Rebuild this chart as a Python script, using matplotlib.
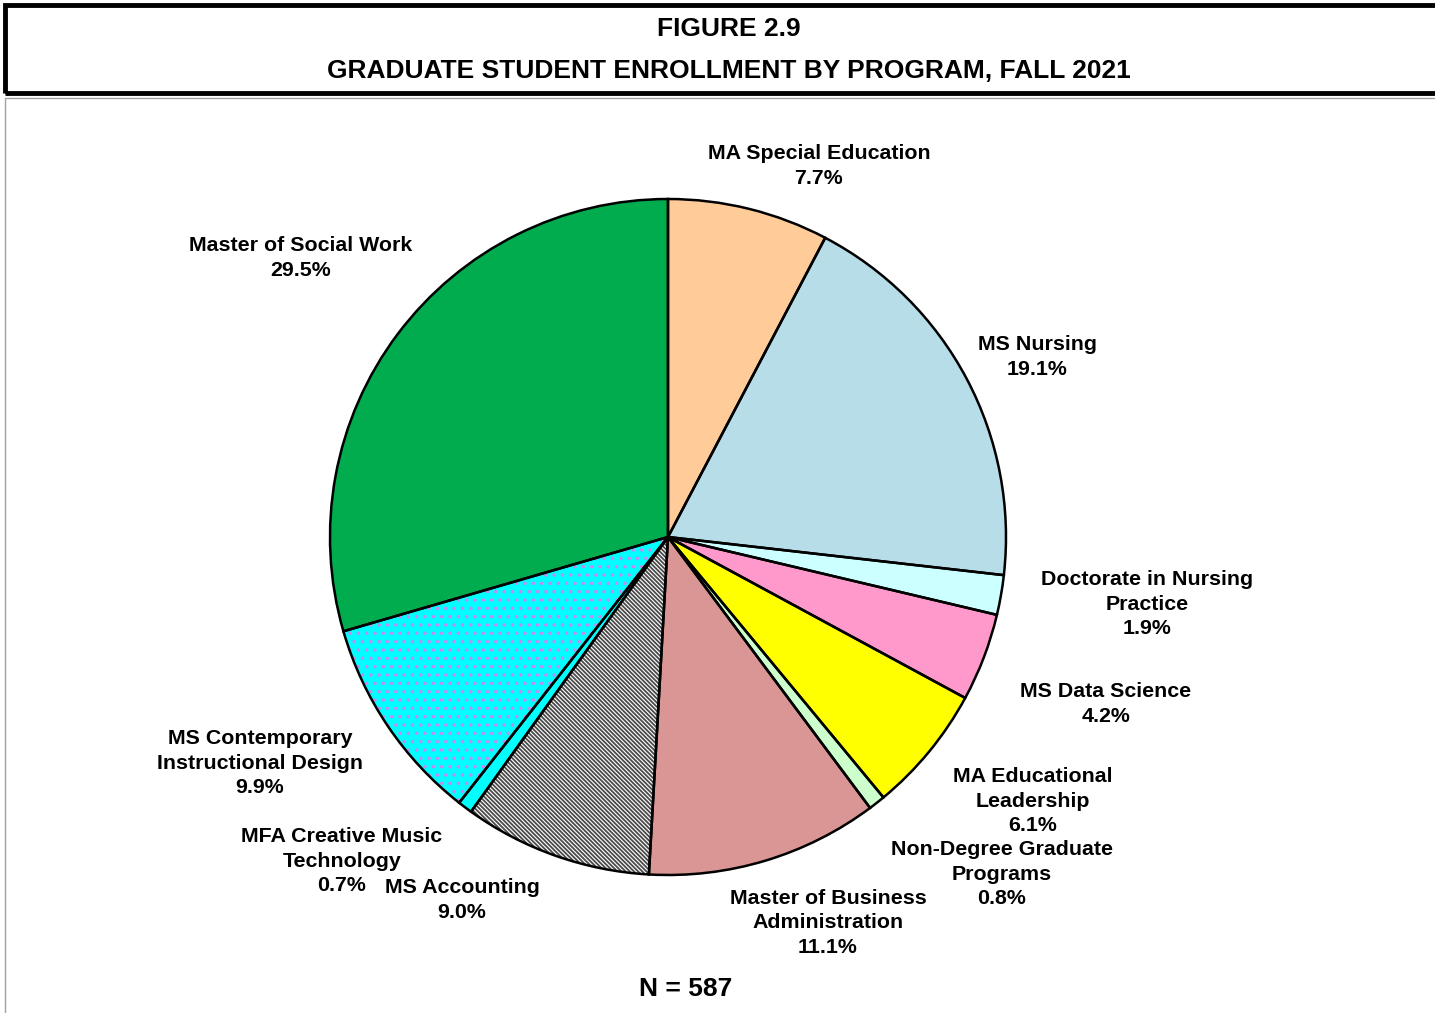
import matplotlib
matplotlib.use("Agg")
import matplotlib.pyplot as plt
from matplotlib.patches import Rectangle

plt.rcParams['font.family'] = ['Liberation Sans', 'DejaVu Sans']
plt.rcParams['hatch.linewidth'] = 1.3

programs = ["MA Special Education", "MS Nursing", "Doctorate in Nursing Practice",
            "MS Data Science", "MA Educational Leadership", "Non-Degree Graduate Programs",
            "Master of Business Administration", "MS Accounting",
            "MFA Creative Music Technology", "MS Contemporary Instructional Design",
            "Master of Social Work"]
percents = [7.7, 19.1, 1.9, 4.2, 6.1, 0.8, 11.1, 9.0, 0.7, 9.9, 29.5]
label_texts = ["MA Special Education", "MS Nursing", "Doctorate in Nursing\nPractice",
               "MS Data Science", "MA Educational\nLeadership", "Non-Degree Graduate\nPrograms",
               "Master of Business\nAdministration", "MS Accounting",
               "MFA Creative Music\nTechnology", "MS Contemporary\nInstructional Design",
               "Master of Social Work"]
colors = ["#FFCC99", "#B7DDE8", "#CCFFFF", "#FF99CC", "#FFFF00", "#CCFFCC",
          "#D99694", "#FFFFFF", "#00FFFF", "#00FFFF", "#00AC4E"]
hatches = [None, None, None, None, None, None, None, "\\" * 8, None, "..", None]
hatch_colors = ["none", "none", "none", "none", "none", "none", "none",
                "#4A4A4A", "none", "#C68BEF", "none"]
N_total = 587
title_line1 = "FIGURE 2.9"
title_line2 = "GRADUATE STUDENT ENROLLMENT BY PROGRAM, FALL 2021"

W, H = 1435, 1013
fig = plt.figure(figsize=(W / 100, H / 100), dpi=100)
fig.patch.set_facecolor("white")

def fx(x):
    return x / W

def fy(y):
    return 1 - y / H

# Header frame
fig.patches.append(Rectangle((fx(5), fy(93)), fx(1440) - fx(5), fy(5) - fy(93),
                             transform=fig.transFigure, fill=False,
                             edgecolor="black", linewidth=3.5))
# Lower frame
fig.patches.append(Rectangle((fx(5), fy(1020)), fx(1440) - fx(5), fy(98) - fy(1020),
                             transform=fig.transFigure, fill=False,
                             edgecolor="#A0A0A0", linewidth=1.0))

fig.text(fx(729), fy(29), title_line1, ha="center", va="center",
         fontsize=19, fontweight="bold")
fig.text(fx(729), fy(71), title_line2, ha="center", va="center",
         fontsize=19, fontweight="bold")

cx, cy, r = 668, 537, 338
ax = fig.add_axes([fx(cx - r), fy(cy + r), 2 * r / W, 2 * r / H])

# Fill + hatch layer
wedges, _ = ax.pie(percents, colors=colors, startangle=90, counterclock=False,
                   radius=1, wedgeprops=dict(linewidth=0))
for w, h, hc in zip(wedges, hatches, hatch_colors):
    if h:
        w.set_hatch(h)
        w.set_edgecolor(hc)
    else:
        w.set_edgecolor("none")
# Outline layer
ax.pie(percents, startangle=90, counterclock=False, radius=1,
       wedgeprops=dict(fill=False, edgecolor="black", linewidth=1.8))
ax.set_xlim(-1, 1)
ax.set_ylim(-1, 1)
ax.set_aspect("equal")
ax.axis("off")

# Labels (pixel centres of text blocks), one text per line
label_pos = [(819, 166), (1037, 357), (1147, 604), (1106, 704), (1033, 801),
             (1002, 874), (828, 923), (462, 900), (342, 861), (260, 763), (301, 258)]
line_step = 24.5
for txt, p, (x, y) in zip(label_texts, percents, label_pos):
    lines = txt.split("\n") + [f"{p:.1f}%"]
    n = len(lines)
    for i, line in enumerate(lines):
        yy = y + (i - (n - 1) / 2) * line_step
        fig.text(fx(x), fy(yy), line, ha="center", va="center",
                 fontsize=15.4, fontweight="bold")

fig.text(fx(686), fy(989), f"N = {N_total}", ha="center", va="center",
         fontsize=19, fontweight="bold")

fig.savefig("out.png", dpi=100)
